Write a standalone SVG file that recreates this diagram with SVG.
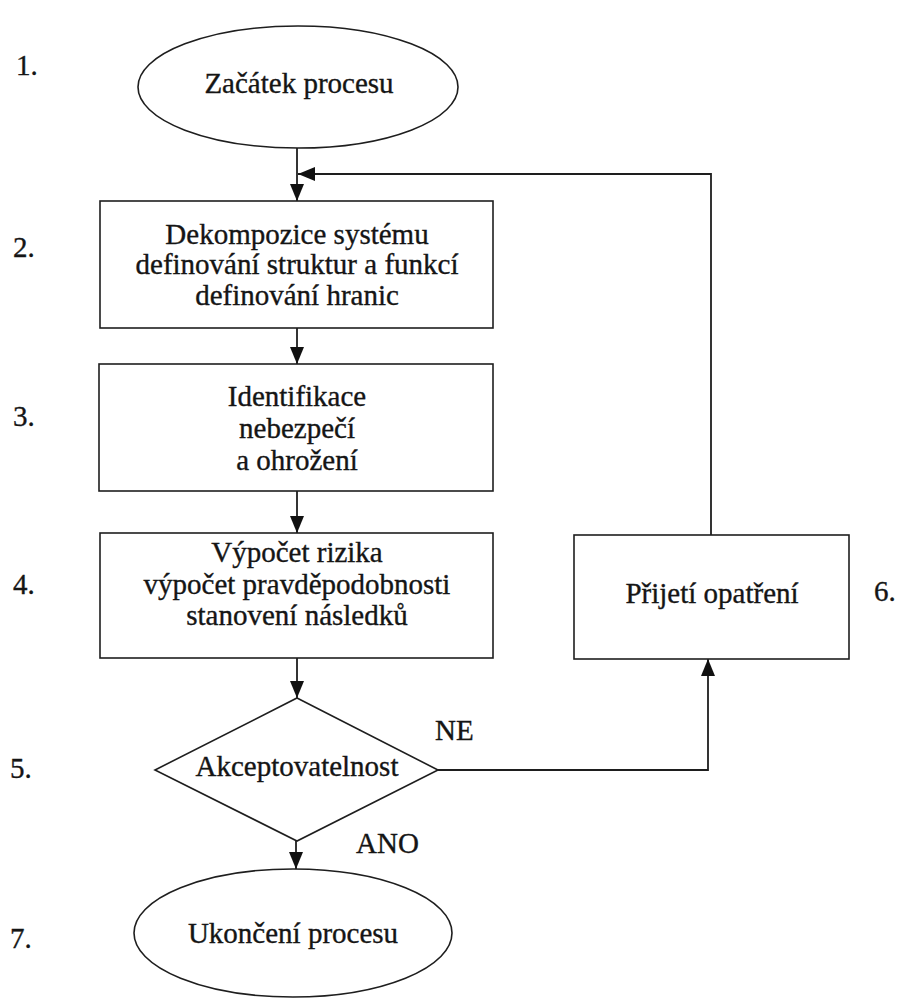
<svg xmlns="http://www.w3.org/2000/svg" width="906" height="998" viewBox="0 0 906 998">
  <style>
    .shape { fill: #ffffff; stroke: #1e1e1e; stroke-width: 1.6; }
    .line { fill: none; stroke: #1e1e1e; stroke-width: 1.8; }
    text { font-family: "Liberation Serif", "Times New Roman", serif; font-size: 29px; fill: #151515; stroke: #151515; stroke-width: 0.35; }
    .c { text-anchor: middle; }
  </style>
  <defs>
    <marker id="arrow" viewBox="0 0 17 14" refX="17" refY="7" markerWidth="17" markerHeight="14" markerUnits="userSpaceOnUse" orient="auto">
      <path d="M0,0 L17,7 L0,14 Z" fill="#111111"/>
    </marker>
  </defs>
  <rect width="906" height="998" fill="#ffffff"/>

  <!-- step numbers -->
  <g id="step-numbers">
    <text x="16" y="75">1.</text>
    <text x="13" y="257">2.</text>
    <text x="13" y="426">3.</text>
    <text x="13" y="594">4.</text>
    <text x="10" y="778">5.</text>
    <text x="874" y="601">6.</text>
    <text x="10" y="948">7.</text>
  </g>

  <!-- connectors -->
  <g id="connectors">
    <line class="line" x1="297" y1="148" x2="297" y2="201" marker-end="url(#arrow)"/>
    <polyline class="line" points="711,535 711,174 298,174" marker-end="url(#arrow)"/>
    <line class="line" x1="297" y1="328" x2="297" y2="364" marker-end="url(#arrow)"/>
    <line class="line" x1="297" y1="491" x2="297" y2="533" marker-end="url(#arrow)"/>
    <line class="line" x1="297" y1="658" x2="297" y2="698" marker-end="url(#arrow)"/>
    <polyline class="line" points="438,770 708,770 708,659" marker-end="url(#arrow)"/>
    <line class="line" x1="296" y1="841" x2="296" y2="869" marker-end="url(#arrow)"/>
    <text x="435" y="740">NE</text>
    <text x="356" y="853">ANO</text>
  </g>

  <g id="start">
    <ellipse class="shape" cx="298" cy="87" rx="160" ry="61"/>
    <text class="c" x="299" y="93">Začátek procesu</text>
  </g>

  <g id="decomposition">
    <rect class="shape" x="100" y="201" width="393" height="127"/>
    <text class="c" x="297" y="244">Dekompozice systému</text>
    <text class="c" x="297" y="274">definování struktur a funkcí</text>
    <text class="c" x="297" y="305">definování hranic</text>
  </g>

  <g id="identification">
    <rect class="shape" x="99" y="364" width="394" height="127"/>
    <text class="c" x="297" y="406">Identifikace</text>
    <text class="c" x="297" y="438">nebezpečí</text>
    <text class="c" x="297" y="470">a ohrožení</text>
  </g>

  <g id="risk-calculation">
    <rect class="shape" x="100" y="533" width="393" height="125"/>
    <text class="c" x="297" y="562">Výpočet rizika</text>
    <text class="c" x="297" y="594">výpočet pravděpodobnosti</text>
    <text class="c" x="297" y="625">stanovení následků</text>
  </g>

  <g id="acceptability">
    <polygon class="shape" points="297,698 438,770 297,841 155,770"/>
    <text class="c" x="297" y="776">Akceptovatelnost</text>
  </g>

  <g id="measures">
    <rect class="shape" x="574" y="535" width="275" height="124"/>
    <text class="c" x="712" y="603">Přijetí opatření</text>
  </g>

  <g id="end">
    <ellipse class="shape" cx="293" cy="933" rx="159" ry="64"/>
    <text class="c" x="293" y="943">Ukončení procesu</text>
  </g>
</svg>
